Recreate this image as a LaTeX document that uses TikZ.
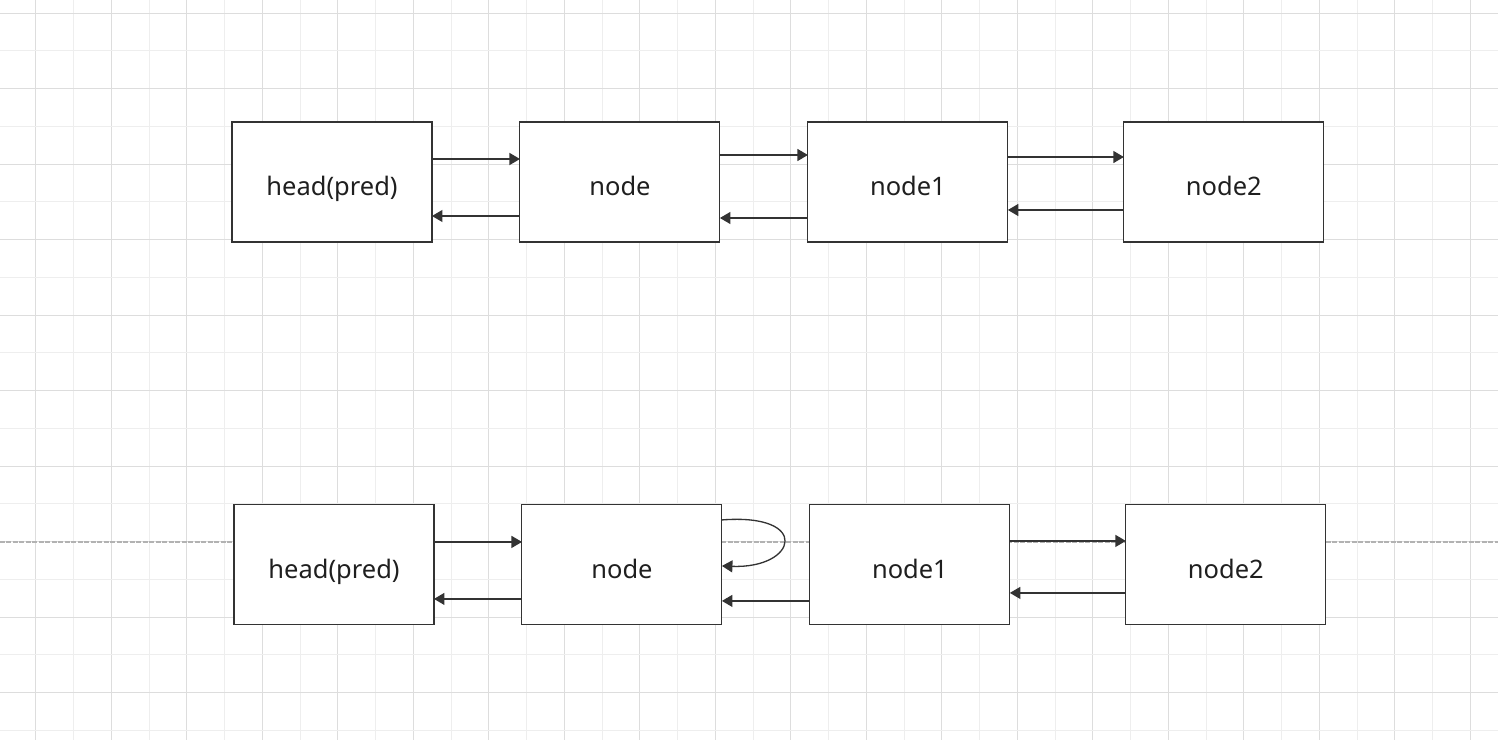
\documentclass[tikz,border=0pt]{standalone}
\usepackage{fontspec}
\setmainfont{Noto Sans}
\usetikzlibrary{positioning,arrows.meta}
\definecolor{gridmajor}{HTML}{DDDDDD}
\definecolor{gridminor}{HTML}{EEEEEE}
\definecolor{linkline}{HTML}{333333}

\begin{document}
\begin{tikzpicture}[x=0.02cm,y=-0.02cm,>={Triangle[length=2.1mm,width=2.4mm]},
    box node/.style={draw=linkline,line width=0.6pt,fill=white,minimum width=4cm,minimum height=2.4cm,inner sep=0pt,outer sep=0pt,text height=0.53cm,text depth=0cm,font=\fontsize{14.5}{17}\selectfont,text=black!88},
    link/.style={->,draw=linkline,line width=0.75pt},
    major grid/.style={draw=gridmajor,line width=0.5pt},
    minor grid/.style={draw=gridminor,line width=0.5pt},
    split line/.style={draw=black!30,line width=0.6pt,dash pattern=on 0.1cm off 0.03cm}]

    \useasboundingbox[fill=white] (0,0) rectangle (1498,740);

    % grid
    \foreach \k in {0,...,18}
        \draw[minor grid] (73.45+75.5*\k,0) -- (73.45+75.5*\k,740);
    \foreach \k in {0,...,19}
        \draw[major grid] (35.7+75.5*\k,0) -- (35.7+75.5*\k,740);
    \foreach \k in {0,...,9} {
        \draw[minor grid] (0,50.75+75.5*\k) -- (1498,50.75+75.5*\k);
        \draw[major grid] (0,13.2+75.5*\k) -- (1498,13.2+75.5*\k);
    }
    \draw[split line] (0,542) -- (1498,542);

    % before
    \node[box node] (1) at (332,182) {head(pred)};
    \node[box node] (2) [right=1.76cm of 1] {node};
    \node[box node] (3) [right=1.76cm of 2] {node1};
    \node[box node] (4) [right=2.32cm of 3] {node2};

    % after
    \node[box node] (5) [below=5.26cm of 1, xshift=0.04cm] {head(pred)};
    \node[box node] (6) [right=1.76cm of 5] {node};
    \node[box node] (7) [right=1.76cm of 6] {node1};
    \node[box node] (8) [right=2.32cm of 7] {node2};

    \draw[link] ([yshift=0.46cm]1.east) -- ([yshift=0.46cm]2.west);
    \draw[link] ([yshift=-0.68cm]2.west) -- ([yshift=-0.68cm]1.east);
    \draw[link] ([yshift=0.54cm]2.east) -- ([yshift=0.54cm]3.west);
    \draw[link] ([yshift=-0.72cm]3.west) -- ([yshift=-0.72cm]2.east);
    \draw[link] ([yshift=0.50cm]3.east) -- ([yshift=0.50cm]4.west);
    \draw[link] ([yshift=-0.56cm]4.west) -- ([yshift=-0.56cm]3.east);

    \draw[link] ([yshift=0.46cm]5.east) -- ([yshift=0.46cm]6.west);
    \draw[link] ([yshift=-0.68cm]6.west) -- ([yshift=-0.68cm]5.east);
    \draw[link] ([yshift=0.9cm]6.east) .. controls +(1.8cm,0.14cm) and +(1.5cm,-0.06cm) .. ([yshift=-0.02cm]6.east);
    \draw[link] ([yshift=-0.72cm]7.west) -- ([yshift=-0.72cm]6.east);
    \draw[link] ([yshift=0.48cm]7.east) -- ([yshift=0.48cm]8.west);
    \draw[link] ([yshift=-0.56cm]8.west) -- ([yshift=-0.56cm]7.east);
\end{tikzpicture}
\end{document}
